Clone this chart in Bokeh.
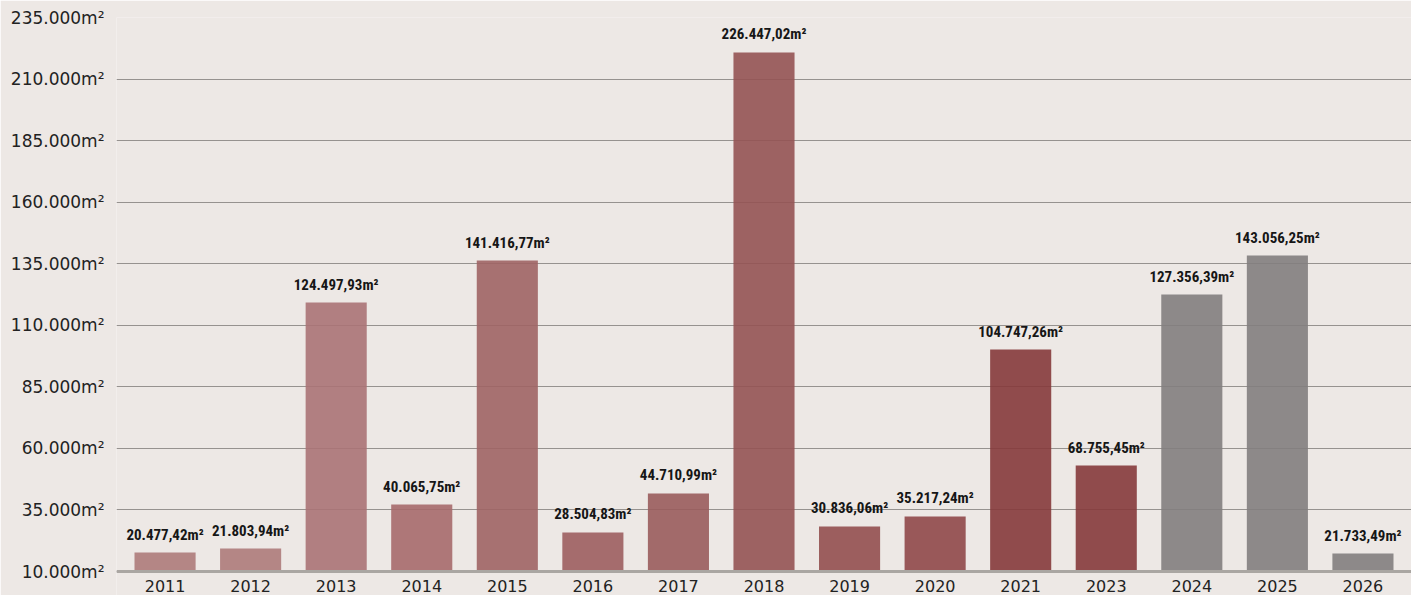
from bokeh.plotting import figure
from bokeh.models import ColumnDataSource, FactorRange, Range1d, FixedTicker, Span
from bokeh.core.properties import value
from bokeh.embed import file_html
from bokeh.resources import INLINE

years = ["2011", "2012", "2013", "2014", "2015", "2016", "2017", "2018",
         "2019", "2020", "2021", "2023", "2024", "2025", "2026"]
# bar heights as read against the y axis
bar_values = [17700, 19300, 119250, 37200, 136300, 25850, 41700, 220800,
              28300, 32350, 100150, 53050, 122500, 138300, 17300]
bar_labels = ["20.477,42m²", "21.803,94m²", "124.497,93m²", "40.065,75m²",
              "141.416,77m²", "28.504,83m²", "44.710,99m²", "226.447,02m²",
              "30.836,06m²", "35.217,24m²", "104.747,26m²", "68.755,45m²",
              "127.356,39m²", "143.056,25m²", "21.733,49m²"]
bar_colors = ["#ad7b7a", "#ad7b7a", "#aa7375", "#a66a6b", "#9f6464", "#9c5e5f",
              "#995c5c", "#945353", "#924f4f", "#8f4849", "#853a3b", "#853a3b",
              "#827e7e", "#827e7e", "#827e7e"]
tick_values = [10000, 35000, 60000, 85000, 110000, 135000, 160000, 185000, 210000, 235000]
tick_labels = ["10.000m²", "35.000m²", "60.000m²", "85.000m²", "110.000m²",
               "135.000m²", "160.000m²", "185.000m²", "210.000m²", "235.000m²"]

BG = "#ede8e5"
base = tick_values[0]

src = ColumnDataSource(dict(year=years, val=bar_values, label=bar_labels,
                            color=bar_colors, base=[base] * len(years)))

p = figure(width=1411, height=595, output_backend="svg", toolbar_location=None,
           x_range=FactorRange(*years, range_padding=0.009),
           y_range=Range1d(260, tick_values[-1]),
           background_fill_color=BG, border_fill_color=BG,
           min_border_left=116, min_border_right=0, min_border_top=17,
           min_border_bottom=0)
p.outline_line_color = None
p.xaxis.visible = False
p.xgrid.grid_line_color = None
p.ygrid.grid_line_color = "#96928f"
p.ygrid.grid_line_width = 1.2

ya = p.yaxis[0]
ya.ticker = FixedTicker(ticks=tick_values)
ya.major_label_overrides = {v: l for v, l in zip(tick_values, tick_labels)}
ya.axis_line_color = None
ya.major_tick_line_color = None
ya.minor_tick_line_color = None
ya.major_label_standoff = 6
ya.major_label_text_font = "DejaVu Sans"
ya.major_label_text_font_size = "17px"
ya.major_label_text_color = "#222222"

p.add_layout(Span(location=base, dimension="width", line_color="#aaa6a2", line_width=3))

p.vbar(x="year", top="val", bottom="base", width=0.714, source=src,
       fill_color="color", fill_alpha=0.9, line_color=None)

p.text(x="year", y="val", text="label", source=src, text_align="center",
       text_baseline="bottom", y_offset=-9,
       text_font=value("'Roboto Condensed', 'Liberation Sans'"),
       text_font_style="bold", text_font_size="15px", text_color="#161616")

p.text(x="year", y="base", text="year", source=src, text_align="center",
       text_baseline="middle", y_offset=14,
       text_font=value("DejaVu Sans"), text_font_size="16px", text_color="#222222")

open("out.html", "w").write(file_html(p, INLINE))
